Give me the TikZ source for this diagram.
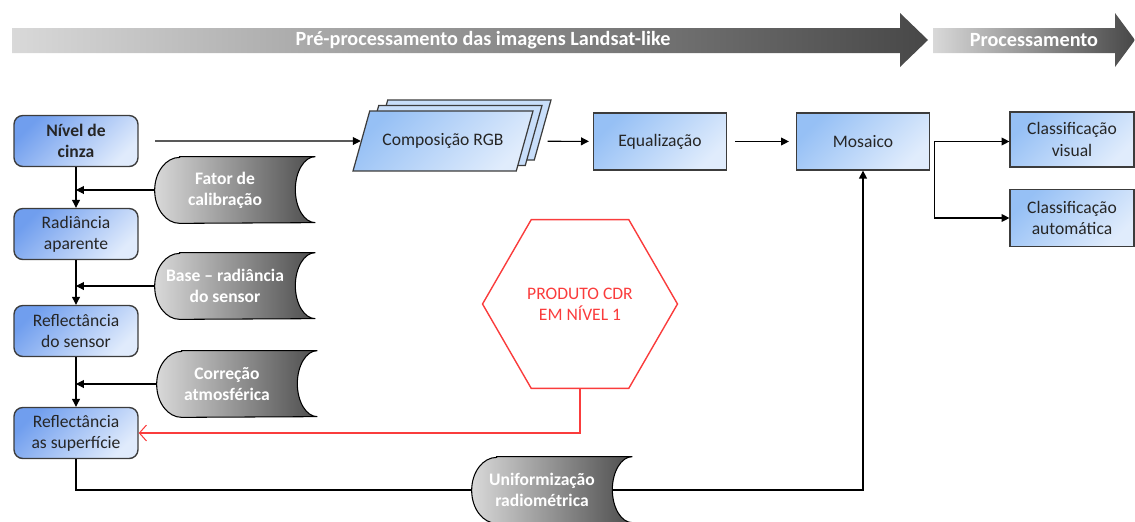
\documentclass[tikz,border=0pt]{standalone}
\usepackage{fontspec}
\setmainfont{Carlito}
\usetikzlibrary{positioning,shapes.geometric,shadows,arrows.meta,backgrounds,calc}

\definecolor{boxdark}{RGB}{112,158,238}
\definecolor{boxlight}{RGB}{224,235,252}
\definecolor{sqdark}{RGB}{150,192,245}
\definecolor{sqlight}{RGB}{224,236,252}
\definecolor{rgbback}{RGB}{200,222,250}
\definecolor{boxline}{RGB}{60,60,60}
\definecolor{cdrred}{RGB}{250,60,60}

% grey "stored data" outline drawn behind a store node
\newcommand{\storeshape}[1]{%
  \path[storefill] ($(#1.north west)+(25,0)$) -- ($(#1.north east)+(20,0)$)
    arc[start angle=90, end angle=270, x radius=0.4cm, y radius=0.66cm]
    -- ($(#1.south west)+(25,0)$)
    arc[start angle=-90, end angle=-270, x radius=0.5cm, y radius=0.66cm] -- cycle;}

\begin{document}
\begin{tikzpicture}[x=0.02cm, y=0.02cm,
  roundbox/.style={draw=boxline, line width=0.8pt, rounded corners=5pt,
    top color=boxdark, bottom color=boxlight, shading angle=45,
    minimum width=2.48cm, minimum height=1.02cm, align=center, text=black!85},
  sqbox/.style={draw=boxline, line width=0.7pt,
    top color=sqdark, bottom color=sqlight, shading angle=45,
    minimum width=2.66cm, minimum height=1.14cm, align=center, text=black!85},
  store/.style={minimum width=2.8cm, minimum height=1.32cm, inner sep=0pt,
    align=center, text=white, font=\bfseries},
  storefill/.style={draw=black, line width=0.6pt, left color=black!15, right color=black!70},
  band/.style={left color=black!15, right color=black!72},
  bandtext/.style={text=white, font=\fontsize{11.5}{13}\selectfont\bfseries},
  flow/.style={line width=0.6pt, -{Triangle[length=4.5pt, width=4.5pt]}},
  line/.style={line width=0.6pt}]
\useasboundingbox (0,0) rectangle (1135,-521);

% stage arrows
\shade[band] (12,-28) -- (900,-28) -- (900,-13) -- (928,-40) -- (900,-67) -- (900,-53) -- (12,-53) -- cycle;
\shade[band] (933,-28) -- (1115,-28) -- (1115,-13) -- (1135,-40) -- (1115,-67) -- (1115,-53) -- (933,-53) -- cycle;
\node[bandtext] (pre)  at (483,-40)  {Pré-processamento das imagens Landsat-like};
\node[bandtext] (proc) at (1034,-40) {Processamento};

% left column
\node[roundbox, font=\bfseries] (nivel) at (76,-141) {Nível de\\cinza};
\node[roundbox] (radia)  at (76,-234) {Radiância\\aparente};
\node[roundbox] (refsen) at (76,-331) {Reflectância\\do sensor};
\node[roundbox] (refsup) at (76,-433) {Reflectância\\as superfície};

\node[store] (fator)   at (225,-190) {Fator de\\calibração};
\node[store] (base)    at (225,-286) {Base – radiância\\do sensor};
\node[store] (correc)  at (227,-384) {Correção\\atmosférica};
\node[store] (uniform) at (542,-490) {Uniformização\\radiométrica};

% top row
\coordinate (start) at (155,-141);
\node[trapezium, trapezium left angle=58, trapezium right angle=122,
      trapezium stretches body, minimum width=3.6cm, minimum height=1.2cm,
      draw=boxline, line width=0.7pt, top color=sqdark, bottom color=sqlight, shading angle=45,
      double copy shadow={shadow xshift=0.18cm, shadow yshift=0.11cm, fill=rgbback, draw=boxline, line width=0.7pt},
      text=black!85] (rgb) at (443,-141) {Composição RGB};
\node[sqbox] (equal)   at (660,-141.5) {Equalização};
\node[sqbox] (mosaico) at (863,-141.5) {Mosaico};
\node[sqbox, minimum width=2.48cm, minimum height=1.1cm]  (classvis)  at (1072,-139.5) {Classificação\\visual};
\node[sqbox, minimum width=2.48cm, minimum height=1.14cm] (classauto) at (1072,-218) {Classificação\\automática};
\coordinate[right=0.08cm of mosaico] (split);

\node[regular polygon, regular polygon sides=6, minimum size=3.9cm, inner sep=0pt,
      draw=cdrred, line width=0.8pt, text=cdrred, align=center] (cdr) at (580,-304) {PRODUTO CDR\\EM NÍVEL 1};

\begin{pgfonlayer}{background}
\storeshape{fator}
\storeshape{base}
\storeshape{correc}
\storeshape{uniform}
\end{pgfonlayer}

% connectors
\draw[flow] (start) -- (rgb);
\draw[flow, shorten <=0.45cm, shorten >=0.08cm] (rgb) -- (equal);
\draw[flow, shorten <=0.16cm, shorten >=0.14cm] (equal) -- (mosaico);
\draw[flow] (split) -- (split -| classvis.west);
\draw[flow] (split) |- (classauto);
\draw[flow] (nivel) -- (radia);
\draw[flow] (radia) -- (refsen);
\draw[flow] (refsen) -- (refsup);
\draw[flow] (fator) -- (fator -| nivel);
\draw[flow] (base) -- (base -| nivel);
\draw[flow] (correc) -- (correc -| nivel);
\draw[line] (refsup) |- (uniform);
\draw[flow] (uniform) -| (mosaico);
\draw[line, draw=cdrred, -{Straight Barb[length=4pt, width=9pt]}] (cdr) |- (refsup);
\end{tikzpicture}
\end{document}
